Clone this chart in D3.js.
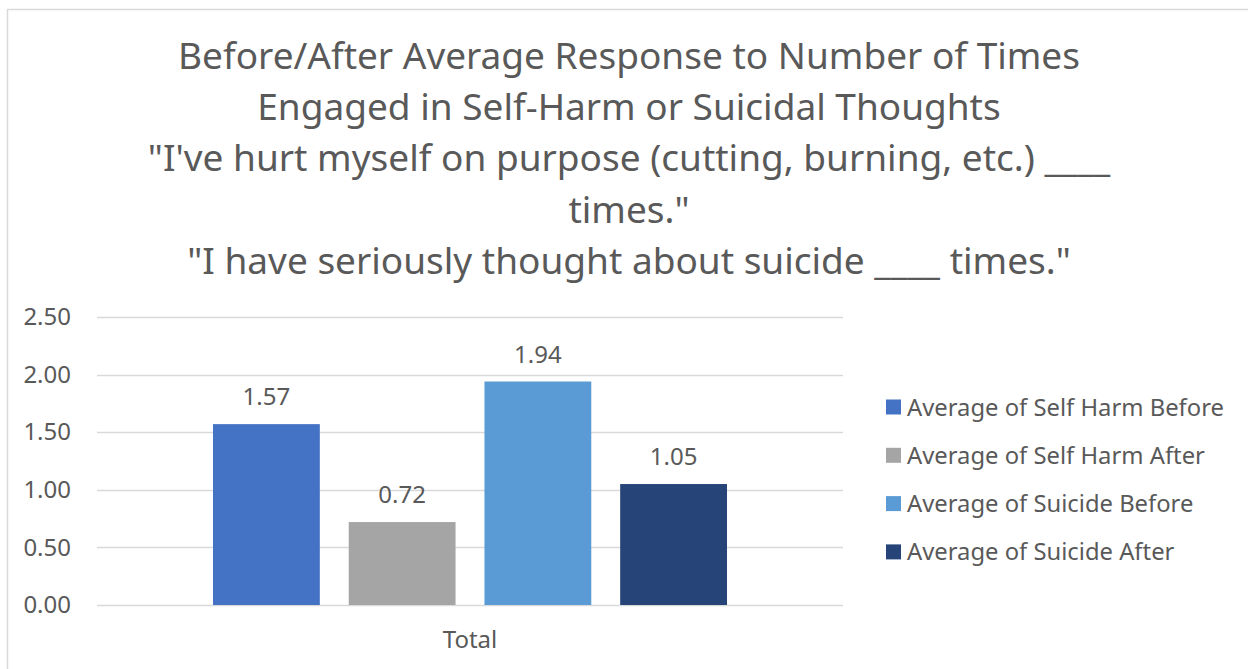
<!DOCTYPE html>
<html>
<head>
<meta charset="utf-8">
<script src="https://cdn.jsdelivr.net/npm/d3@7"></script>
<style>
  body { margin: 0; background: #fff; }
  text { font-family: "Noto Sans", "Open Sans", sans-serif; fill: #595959; }
</style>
</head>
<body>
<div id="wrapper"></div>
<script>
const titleLines = [
    "Before/After Average Response to Number of Times",
    "Engaged in Self-Harm or Suicidal Thoughts",
    "\"I've hurt myself on purpose (cutting, burning, etc.) ____",
    "times.\"",
    "\"I have seriously thought about suicide ____ times.\""
]
const categories = ["Total"]
const seriesNames = [
    "Average of Self Harm Before",
    "Average of Self Harm After",
    "Average of Suicide Before",
    "Average of Suicide After"
]
const seriesValues = [1.57, 0.72, 1.94, 1.05]
const seriesColors = ["#4472C4", "#A5A5A5", "#5B9BD5", "#264478"]
const yTicks = [0, 0.5, 1, 1.5, 2, 2.5]

let dimensions = {
    width: 1248,
    height: 669,
    margin: {
        top: 317,
        right: 405,
        bottom: 64,
        left: 97,
    }
}
dimensions.boundedWidth = dimensions.width - dimensions.margin.left - dimensions.margin.right
dimensions.boundedHeight = dimensions.height - dimensions.margin.top - dimensions.margin.bottom

const svg = d3.select("#wrapper")
    .append("svg")
    .attr("width", dimensions.width)
    .attr("height", dimensions.height)

// chart border
svg.append("rect")
    .attr("x", 7.5)
    .attr("y", 9.5)
    .attr("width", 1250)
    .attr("height", 680)
    .attr("fill", "#fff")
    .attr("stroke", "#D9D9D9")
    .attr("stroke-width", 1.5)

svg.append("text")
    .attr("text-anchor", "middle")
    .style("font-size", "37px")
    .selectAll("tspan")
    .data(titleLines)
    .join("tspan")
    .attr("x", 629)
    .attr("y", (d, i) => 69 + i * 51.2)
    .text(d => d)

const bounds = svg.append("g")
    .attr("transform", `translate(${dimensions.margin.left}, ${dimensions.margin.top})`)

const yScale = d3.scaleLinear()
    .domain([0, 2.5])
    .range([dimensions.boundedHeight, 0])

const xScale = d3.scaleBand()
    .domain(categories)
    .range([0, dimensions.boundedWidth])
    .paddingOuter(0.2257)
    .paddingInner(0)

const innerScale = d3.scaleBand()
    .domain(seriesNames)
    .range([0, xScale.bandwidth()])
    .paddingInner(0.213)
    .paddingOuter(0)

// gridlines
bounds.append("g")
    .selectAll("line")
    .data(yTicks)
    .join("line")
    .attr("x1", 0)
    .attr("x2", dimensions.boundedWidth)
    .attr("y1", d => Math.round(yScale(d)) + 0.5)
    .attr("y2", d => Math.round(yScale(d)) + 0.5)
    .attr("stroke", "#D9D9D9")
    .attr("stroke-width", 1.5)

const yAxis = d3.axisLeft(yScale)
    .tickValues(yTicks)
    .tickFormat(d3.format(".2f"))
    .tickSize(0)
    .tickPadding(26)

const yAxisG = bounds.append("g").call(yAxis)
yAxisG.select(".domain").remove()
yAxisG.selectAll("text")
    .style("font-size", "24px")
    .style("font-family", "\"Noto Sans\", sans-serif")
    .attr("fill", "#595959")

const groups = bounds.selectAll(".cat")
    .data(categories)
    .join("g")
    .attr("class", "cat")
    .attr("transform", d => `translate(${xScale(d)}, 0)`)

const barData = seriesNames.map((name, i) => ({ name, value: seriesValues[i], color: seriesColors[i] }))

groups.selectAll("rect")
    .data(barData)
    .join("rect")
    .attr("x", d => innerScale(d.name))
    .attr("width", innerScale.bandwidth())
    .attr("y", d => yScale(d.value))
    .attr("height", d => yScale(0) - yScale(d.value))
    .attr("fill", d => d.color)

groups.selectAll(".label")
    .data(barData)
    .join("text")
    .attr("class", "label")
    .attr("text-anchor", "middle")
    .attr("x", d => innerScale(d.name) + innerScale.bandwidth() / 2)
    .attr("y", d => yScale(d.value) - 19)
    .style("font-size", "24px")
    .text(d => d3.format(".2f")(d.value))

const xAxis = d3.axisBottom(xScale)
    .tickSize(0)
    .tickPadding(26)

const xAxisG = bounds.append("g")
    .attr("transform", `translate(0, ${dimensions.boundedHeight})`)
    .call(xAxis)
xAxisG.select(".domain").remove()
xAxisG.selectAll("text")
    .style("font-size", "24px")
    .style("font-family", "\"Noto Sans\", sans-serif")
    .attr("fill", "#595959")

// legend
const legend = svg.append("g")
    .attr("transform", "translate(886, 407)")

const legendItems = legend.selectAll("g")
    .data(barData)
    .join("g")
    .attr("transform", (d, i) => `translate(0, ${i * 48.3})`)

legendItems.append("rect")
    .attr("x", 0)
    .attr("y", -7.5)
    .attr("width", 15)
    .attr("height", 15)
    .attr("fill", d => d.color)

legendItems.append("text")
    .attr("x", 21)
    .attr("y", 8.5)
    .style("font-size", "23.8px")
    .text(d => d.name)
</script>
</body>
</html>
